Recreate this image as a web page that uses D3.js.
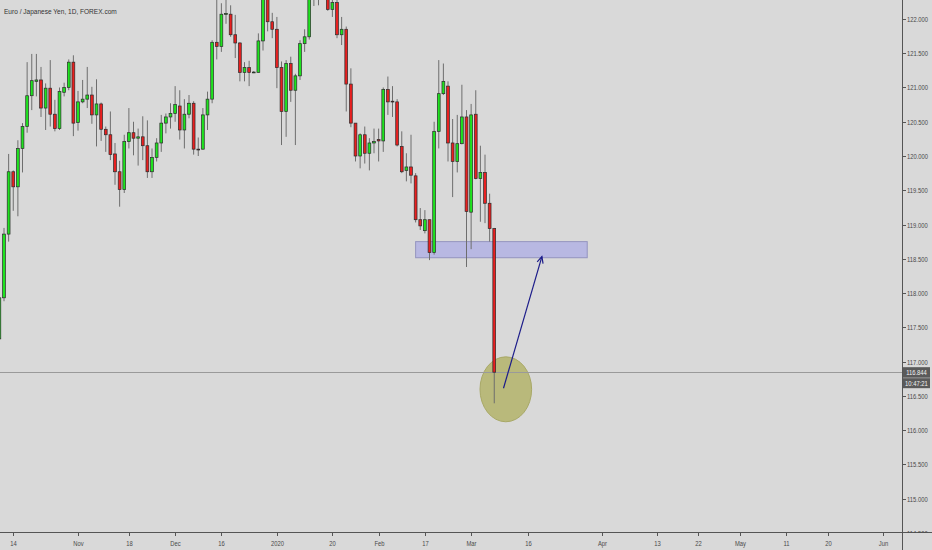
<!DOCTYPE html>
<html><head><meta charset="utf-8">
<script src="https://cdn.jsdelivr.net/npm/d3@7"></script>
<style>html,body{margin:0;padding:0;background:#d9d9d9;overflow:hidden} text{-webkit-font-smoothing:antialiased;}</style>
</head><body>
<svg id="chart" width="932" height="550"></svg>
<script>
// ---------- DATA ----------
const title = "Euro / Japanese Yen, 1D, FOREX.com";
const firstBar = -3; // bar index of the first candle (bar 0 = 14 Oct)
const opens = [117.33,117.93,118.86,119.77,119.55,120.11,120.43,120.88,121.09,121.11,120.70,120.99,120.61,120.40,120.93,121.00,121.37,120.49,120.79,120.83,120.89,120.60,120.76,120.39,120.31,120.03,119.77,119.51,120.21,120.34,120.26,120.28,120.15,119.77,119.98,120.19,120.48,120.57,120.62,120.73,120.38,120.61,120.77,120.10,120.10,120.60,120.83,121.66,121.60,122.07,122.07,121.77,121.65,121.22,121.29,121.22,121.22,121.68,122.32,121.96,121.85,121.29,120.65,121.35,120.96,121.17,121.64,121.74,122.40,122.55,122.45,122.60,122.14,122.24,121.77,121.85,121.05,120.48,120.00,120.31,120.04,120.19,120.24,120.22,120.97,120.80,120.79,120.14,119.79,119.84,119.71,119.07,118.91,119.07,118.59,120.36,120.91,121.02,120.19,119.92,120.18,120.57,119.18,120.61,119.67,119.76,119.31,118.94];
const highs = [117.95,118.95,120.03,119.79,120.23,120.48,121.37,121.49,121.49,121.30,121.06,121.40,120.82,121.00,121.07,121.41,121.47,120.95,121.11,121.30,121.01,121.12,120.78,120.43,120.65,120.19,119.93,120.31,120.70,120.50,120.40,120.58,120.52,120.11,120.26,120.60,120.62,120.77,121.02,120.96,120.83,120.89,120.80,120.27,120.70,120.94,121.69,122.35,122.23,122.32,122.20,122.06,121.66,121.37,121.39,121.24,121.79,122.45,122.45,122.09,122.03,121.38,121.40,121.45,121.20,121.69,121.85,122.55,122.70,122.75,122.80,122.70,122.35,122.30,122.03,121.89,121.28,120.48,120.33,120.43,120.26,120.40,120.40,121.00,121.16,121.02,120.83,120.36,120.04,120.31,119.75,119.24,119.21,119.07,120.50,121.40,121.35,121.09,120.54,120.60,121.04,120.67,120.76,120.96,120.15,120.02,119.45,118.95];
const lows = [117.20,117.88,118.75,119.20,119.12,119.76,120.34,120.67,120.87,120.57,120.38,120.43,120.36,120.38,120.87,120.96,120.29,120.37,120.77,120.70,120.47,120.14,120.22,120.06,119.94,119.58,119.26,119.46,120.11,120.01,119.86,119.94,119.68,119.68,119.92,120.06,120.33,120.40,120.50,120.24,120.11,120.55,120.02,120.00,120.09,120.38,120.77,121.41,121.52,121.93,121.74,121.43,121.09,121.09,121.02,121.21,121.22,121.54,121.82,121.72,120.99,120.16,120.28,120.79,120.16,121.11,121.52,121.70,122.19,122.20,122.30,122.12,122.03,121.72,121.62,120.65,120.42,119.92,119.82,119.89,119.79,120.04,119.92,120.06,120.60,120.57,120.14,119.75,119.63,119.60,119.03,118.92,118.87,118.48,118.56,120.11,120.89,119.92,119.40,119.76,120.17,118.38,118.64,119.66,119.04,119.02,118.75,116.39];
const closes = [117.93,118.86,119.77,119.55,120.11,120.43,120.88,121.10,121.11,120.70,120.99,120.61,120.40,120.94,121.00,121.37,120.48,120.79,120.83,120.89,120.60,120.76,120.39,120.31,120.02,119.77,119.51,120.21,120.34,120.26,120.28,120.15,119.77,119.98,120.19,120.48,120.57,120.62,120.75,120.38,120.61,120.77,120.10,120.09,120.60,120.83,121.66,121.60,122.07,122.08,121.77,121.65,121.22,121.29,121.22,121.225,121.68,122.32,121.96,121.85,121.29,120.65,121.35,120.96,121.17,121.64,121.74,122.40,122.55,122.45,122.60,122.14,122.24,121.77,121.85,121.05,120.48,120.00,120.31,120.04,120.19,120.21,120.22,120.97,120.79,120.79,120.16,119.77,119.84,119.72,119.07,118.98,119.07,118.59,120.36,120.91,121.09,120.19,119.92,120.18,120.57,119.19,120.60,119.67,119.76,119.31,118.94,116.844];
const priceTicks = [122, 121.5, 121, 120.5, 120, 119.5, 119, 118.5, 118, 117.5, 117, 116.5, 116, 115.5, 115, 114.5];
const dateTickLabels = ["14","Nov","18","Dec","16","2020","20","Feb","17","Mar","16","Apr","13","22","May","11","20","Jun"];
const dateTickBars = [0,14,25,35,45,57,69,79,89,99,111.3,127.3,139.2,148.1,157.1,167.1,176.2,188.1];
const lastPrice = 116.844;
const lastTime = "10:47:21";
const zoneBars = [87, 124.1];
const zonePrices = [118.75, 118.515];
const ellipseCenter = [106.5, 116.594];
const ellipseRadius = [5.58, 0.474]; // bars, price
const arrowFrom = [106.0, 116.61];
const arrowTo = [114.3, 118.53];

// ---------- CHART ----------
const W = 932, H = 550, plotRight = 902, plotBottom = 532;
const svg = d3.select("#chart");
svg.append("rect").attr("width", W).attr("height", H).attr("fill", "#d9d9d9");

const x = d3.scaleLinear().domain([0, 100]).range([13.25, 13.25 + 462.5]);
const y = d3.scaleLinear().domain([122, 114.5]).range([19, 532.75]);

svg.append("defs").append("clipPath").attr("id", "plotclip")
  .append("rect").attr("x", 0).attr("y", 0).attr("width", plotRight).attr("height", plotBottom);
const plot = svg.append("g").attr("clip-path", "url(#plotclip)");

// zone rectangle
plot.append("rect")
  .attr("x", x(zoneBars[0])).attr("y", y(zonePrices[0]))
  .attr("width", x(zoneBars[1]) - x(zoneBars[0]))
  .attr("height", y(zonePrices[1]) - y(zonePrices[0]))
  .attr("fill", "#b8b8e2").attr("stroke", "#9494bf").attr("stroke-width", 1);

// ellipse
plot.append("ellipse")
  .attr("cx", x(ellipseCenter[0])).attr("cy", y(ellipseCenter[1]))
  .attr("rx", x(ellipseCenter[0] + ellipseRadius[0]) - x(ellipseCenter[0]))
  .attr("ry", y(ellipseCenter[1] - ellipseRadius[1]) - y(ellipseCenter[1]))
  .attr("fill", "#b9b97b").attr("stroke", "#a8a866").attr("stroke-width", 1);

// last price line
plot.append("line")
  .attr("x1", 0).attr("x2", plotRight)
  .attr("y1", Math.round(y(lastPrice)) + 0.5).attr("y2", Math.round(y(lastPrice)) + 0.5)
  .attr("stroke", "#9a9a9a").attr("stroke-width", 1);

// candles
const candles = opens.map((o, k) => ({i: firstBar + k, o, h: highs[k], l: lows[k], c: closes[k]}));
const bw = 2.8;
const g = plot.append("g");
g.selectAll("line.wick").data(candles).join("line").attr("class", "wick")
  .attr("x1", d => x(d.i)).attr("x2", d => x(d.i))
  .attr("y1", d => y(d.h)).attr("y2", d => y(d.l))
  .attr("stroke", "#6e6e6e").attr("stroke-width", 1);
g.selectAll("rect.body").data(candles).join("rect").attr("class", "body")
  .attr("x", d => x(d.i) - bw / 2).attr("width", bw)
  .attr("y", d => y(Math.max(d.o, d.c)))
  .attr("height", d => Math.max(0.8, Math.abs(y(d.o) - y(d.c))))
  .attr("fill", d => d.c >= d.o ? "#1fe31f" : "#e82020")
  .attr("stroke", "#2b2b2b").attr("stroke-width", 0.7);

// arrow
const ax1 = x(arrowFrom[0]), ay1 = y(arrowFrom[1]), ax2 = x(arrowTo[0]), ay2 = y(arrowTo[1]);
plot.append("line").attr("x1", ax1).attr("y1", ay1).attr("x2", ax2).attr("y2", ay2)
  .attr("stroke", "#1c1c8a").attr("stroke-width", 1.2);
const ang = Math.atan2(ay2 - ay1, ax2 - ax1), hl = 7, ha = 0.45;
plot.append("path")
  .attr("d", `M${ax2 - hl * Math.cos(ang - ha)},${ay2 - hl * Math.sin(ang - ha)}L${ax2},${ay2}L${ax2 - hl * Math.cos(ang + ha)},${ay2 - hl * Math.sin(ang + ha)}`)
  .attr("fill", "none").attr("stroke", "#1c1c8a").attr("stroke-width", 1.2);

// axes lines
svg.append("line").attr("x1", plotRight + 0.5).attr("x2", plotRight + 0.5).attr("y1", 0).attr("y2", H)
  .attr("stroke", "#555").attr("stroke-width", 1);
svg.append("line").attr("x1", 0).attr("x2", W).attr("y1", plotBottom + 0.5).attr("y2", plotBottom + 0.5)
  .attr("stroke", "#555").attr("stroke-width", 1);

const axFont = "'Liberation Sans', Arial, sans-serif";
// condensed text helper (the reference uses a narrow face)
function narrowText(parent, tx, ty, str, opts) {
  const o = Object.assign({size: 7.5, sx: 0.78, anchor: "start", fill: "#4a4a4a"}, opts || {});
  return parent.append("text")
    .attr("transform", `translate(${tx},${ty}) scale(${o.sx},1)`)
    .attr("dy", "0.35em").attr("text-anchor", o.anchor)
    .attr("font-family", axFont).attr("font-size", o.size).attr("fill", o.fill)
    .attr("opacity", 0.999)
    .text(str);
}

// right axis
const ra = svg.append("g");
priceTicks.forEach(p => {
  const yy = Math.round(y(p)) + 0.5;
  ra.append("line").attr("x1", plotRight + 1).attr("x2", plotRight + 4).attr("y1", yy).attr("y2", yy)
    .attr("stroke", "#555");
  narrowText(ra, plotRight + 5, yy, d3.format(".3f")(p));
});
// bottom axis
const ba = svg.append("g");
dateTickBars.forEach((b, k) => {
  const xx = Math.round(x(b)) + 0.5;
  ba.append("line").attr("x1", xx).attr("x2", xx).attr("y1", plotBottom + 1).attr("y2", plotBottom + 4)
    .attr("stroke", "#555");
  narrowText(ba, xx, 543, dateTickLabels[k], {anchor: "middle"});
});
// cover area under bottom axis right of the price axis
svg.append("rect").attr("x", plotRight + 1).attr("y", plotBottom + 1).attr("width", W - plotRight).attr("height", H - plotBottom)
  .attr("fill", "#d9d9d9");

// price label boxes
const ly = y(lastPrice);
svg.append("rect").attr("x", plotRight + 1).attr("y", ly - 5).attr("width", 27).attr("height", 10.5).attr("fill", "#5a5a5a");
narrowText(svg, plotRight + 14.5, ly, d3.format(".3f")(lastPrice), {anchor: "middle", fill: "#f2f2f2"});
svg.append("rect").attr("x", plotRight + 1).attr("y", ly + 6).attr("width", 27).attr("height", 10).attr("fill", "#5a5a5a");
narrowText(svg, plotRight + 14.5, ly + 11, lastTime, {anchor: "middle", fill: "#f2f2f2"});

// title
narrowText(svg, 4, 11, title, {size: 8, sx: 0.82, fill: "#333"});
</script>
</body></html>
